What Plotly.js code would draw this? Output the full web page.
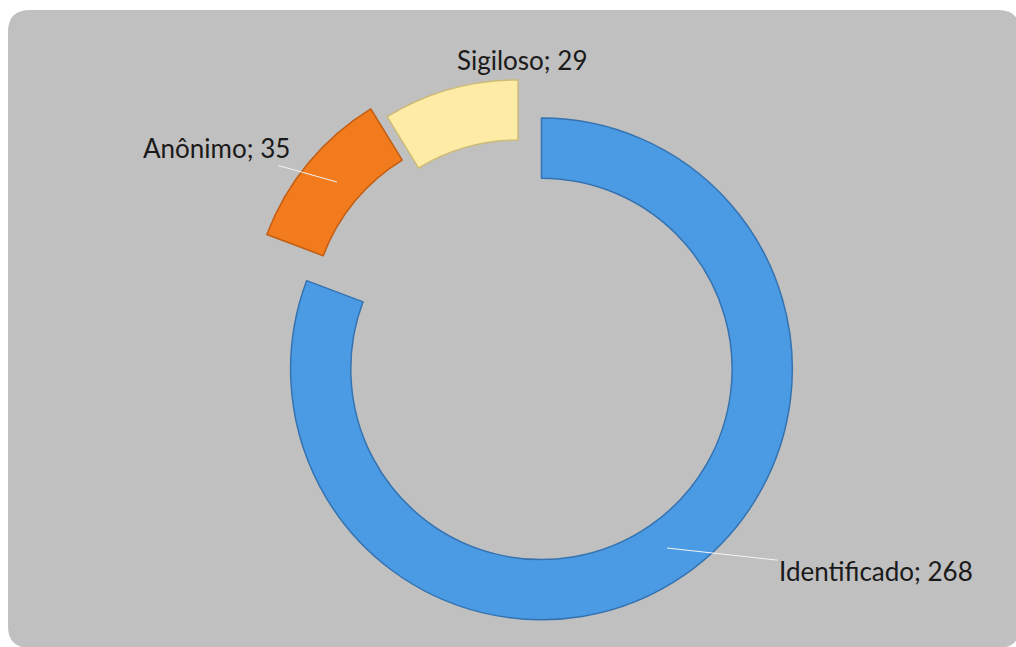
<!DOCTYPE html>
<html>
<head>
<meta charset="utf-8">
<script src="https://cdn.plot.ly/plotly-3.0.1.min.js"></script>
<style>
  html, body { margin: 0; padding: 0; background: #ffffff; }
  #chart { width: 1016px; height: 647px; }
</style>
</head>
<body>
<div id="chart"></div>
<script>
// Chart data
const labels = ['Identificado', 'Anônimo', 'Sigiloso'];
const values = [268, 35, 29];
const sliceColors = ['#4a9be4', '#f27b1d', '#fdeba6'];
const edgeColors = ['#3572b0', '#c35d12', '#cdbb78'];
const pulls = [0.15, 0.095, 0.03];

// label placement (pixels): text centre, and where the leader line ends
const labelPos = [
    {x: 876, y: 571, tx: 667, ty: 548},
    {x: 216, y: 148, tx: 337, ty: 182},
    {x: 522, y: 60, tx: null, ty: null}
];

const W = 1016, H = 647;
const px = x => x / W;
const py = y => 1 - y / H;

// rounded grey panel behind the chart
function roundedRect(x0, y0, x1, y1, r) {
    return `M ${px(x0 + r)} ${py(y0)} L ${px(x1 - r)} ${py(y0)} ` +
        `Q ${px(x1)} ${py(y0)} ${px(x1)} ${py(y0 + r)} L ${px(x1)} ${py(y1 - r)} ` +
        `Q ${px(x1)} ${py(y1)} ${px(x1 - r)} ${py(y1)} L ${px(x0 + r)} ${py(y1)} ` +
        `Q ${px(x0)} ${py(y1)} ${px(x0)} ${py(y1 - r)} L ${px(x0)} ${py(y0 + r)} ` +
        `Q ${px(x0)} ${py(y0)} ${px(x0 + r)} ${py(y0)} Z`;
}

const annotations = labels.map((lab, i) => {
    const p = labelPos[i];
    const a = {
        text: `${lab}; ${values[i]}`,
        font: {family: 'Lato, "Open Sans", sans-serif', size: 26, color: '#1a1a1a'},
        xref: 'paper', yref: 'paper'
    };
    if (p.tx === null) {
        a.x = px(p.x); a.y = py(p.y);
        a.xanchor = 'center';
        a.yanchor = 'middle';
        a.showarrow = false;
    } else {
        a.x = px(p.tx); a.y = py(p.ty);
        a.ax = p.x - p.tx; a.ay = p.y - p.ty;
        a.showarrow = true;
        a.arrowhead = 0;
        a.arrowwidth = 1;
        a.arrowcolor = '#f4f4f4';
    }
    return a;
});

const data = [{
    type: 'pie',
    labels: labels,
    values: values,
    hole: 0.76,
    sort: false,
    direction: 'clockwise',
    rotation: 0,
    pull: pulls,
    textinfo: 'none',
    marker: {colors: sliceColors, line: {color: edgeColors, width: 1.5}},
    domain: {x: [0.2279, 0.7958], y: [0.0317, 0.9235]},
    hoverinfo: 'label+value'
}];

const layout = {
    width: W,
    height: H,
    margin: {t: 0, r: 0, b: 0, l: 0},
    paper_bgcolor: '#ffffff',
    showlegend: false,
    shapes: [{
        type: 'path',
        xref: 'paper', yref: 'paper',
        path: roundedRect(8, 10, 1020, 648, 22),
        fillcolor: '#c0c0c0',
        line: {width: 0},
        layer: 'below'
    }],
    annotations: annotations
};

Plotly.newPlot('chart', data, layout, {displayModeBar: false});
</script>
</body>
</html>
